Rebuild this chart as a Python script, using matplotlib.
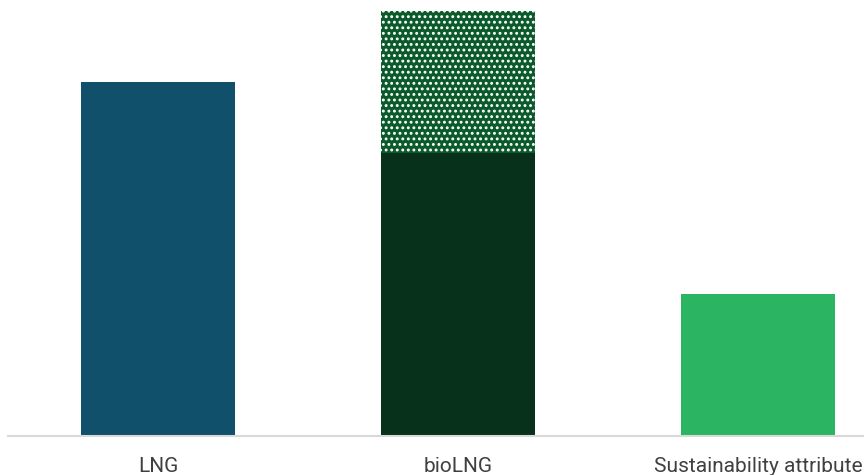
import matplotlib
matplotlib.use("Agg")
import matplotlib.pyplot as plt

categories = ["LNG", "bioLNG", "Sustainability attribute"]
base_values = [100, 80, 40]
attribute_values = [0, 40, 0]
base_colors = ["#11506a", "#07311a", "#2bb462"]

plt.rcParams["hatch.color"] = "white"
plt.rcParams["hatch.linewidth"] = 1.3

fig = plt.figure(figsize=(8.64, 4.75), dpi=100)
ax = fig.add_axes([8 / 864, 1 - 436 / 475, 856 / 864, 425 / 475])
x = list(range(len(categories)))
width = 154 / 300
ax.bar(x, base_values, width=width, color=base_colors, linewidth=0, zorder=2)
ax.bar(x, attribute_values, width=width, bottom=base_values, color="#0b5a2b",
       hatch="...", linewidth=0, zorder=2)

ax.set_xlim(-0.5, -0.5 + 856 / 300)
ax.set_ylim(0, 120)
for s in ["top", "right", "left"]:
    ax.spines[s].set_visible(False)
ax.spines["bottom"].set_color("#d9d9d9")
ax.spines["bottom"].set_linewidth(1.5)
ax.set_yticks([])
ax.set_xticks(x)
ax.set_xticklabels(categories, fontsize=15, color="#404040", family=["Roboto", "DejaVu Sans"])
ax.tick_params(axis="x", length=0, pad=15)
fig.savefig("out.png", dpi=100)
